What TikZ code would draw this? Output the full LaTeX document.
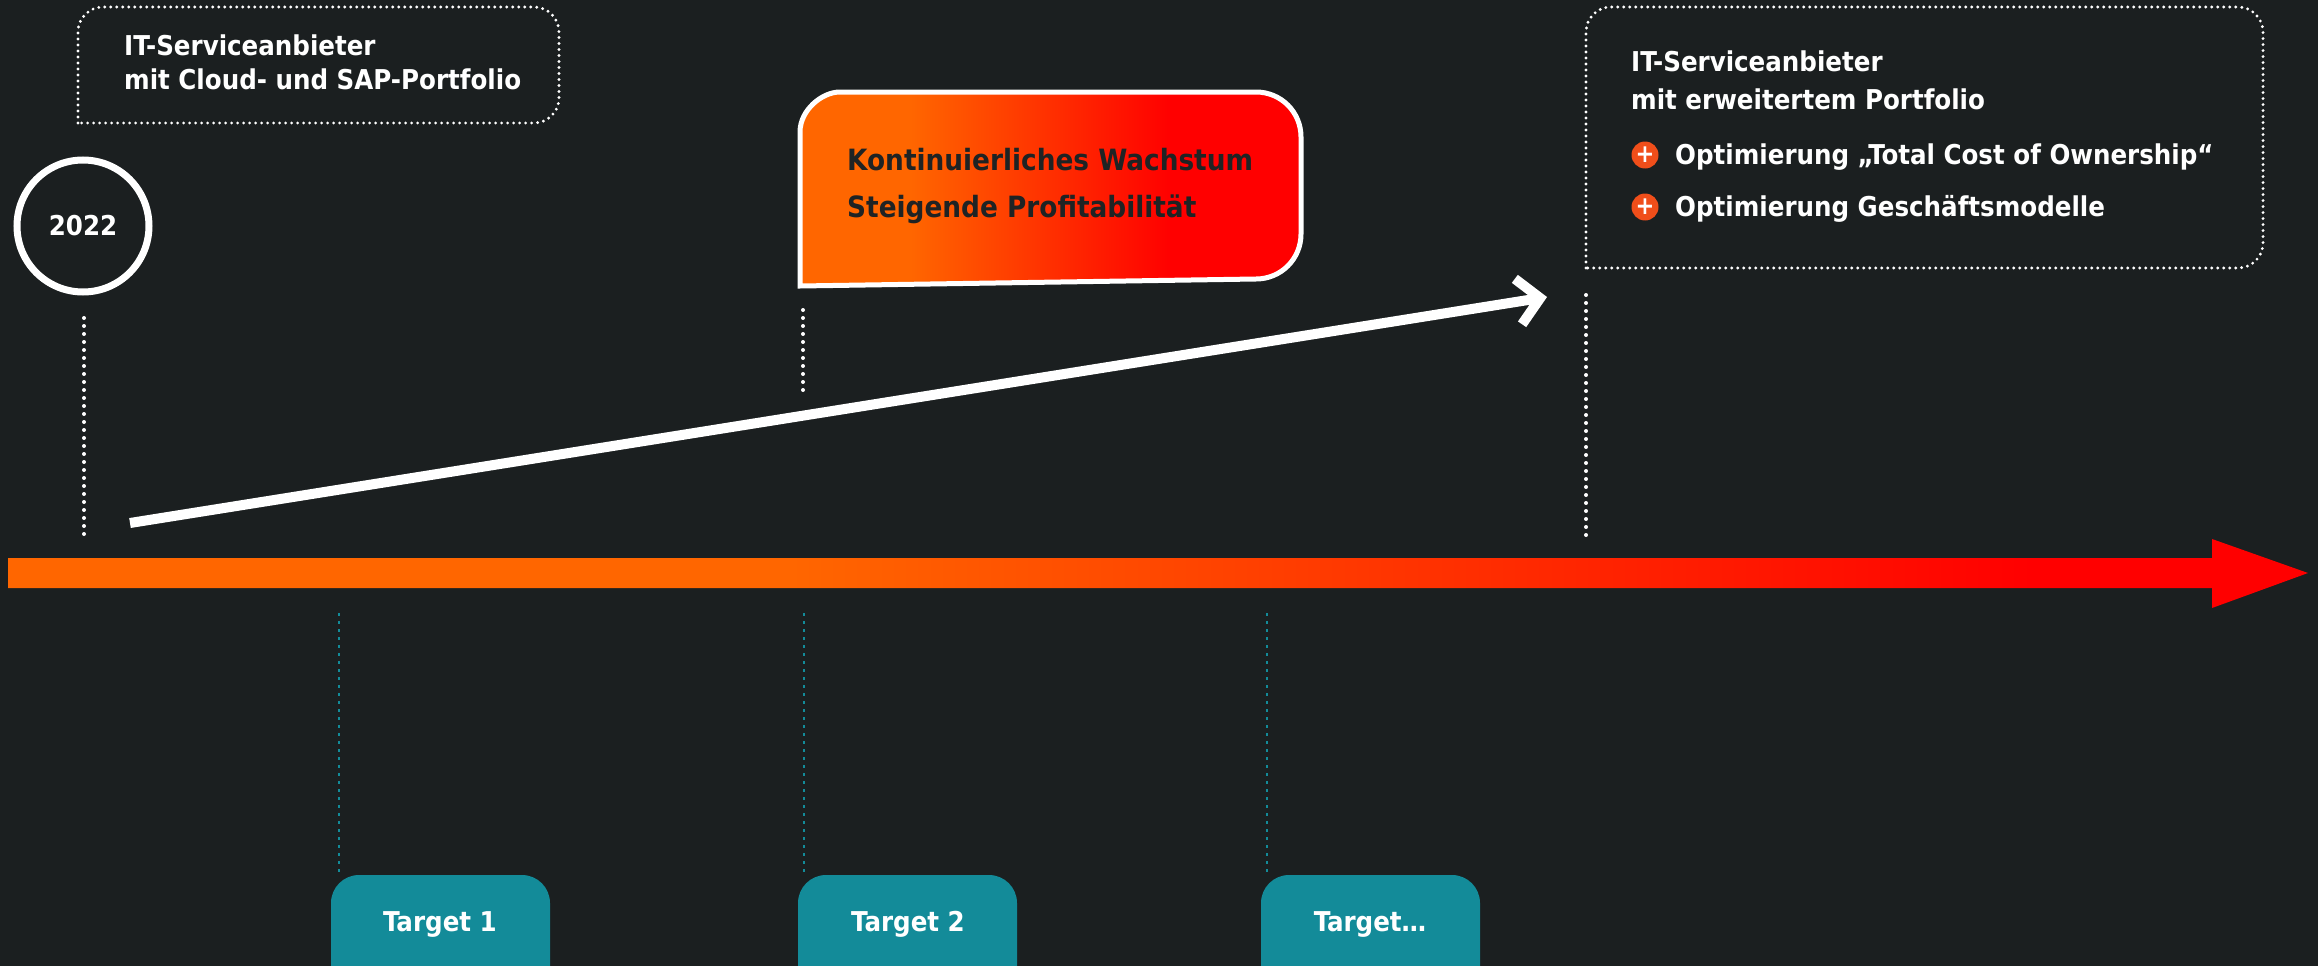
\documentclass[tikz,border=0pt]{standalone}
\usepackage{fontspec}
\setmainfont{DejaVu Sans Condensed}
\usetikzlibrary{arrows.meta}
\definecolor{bg}{HTML}{1B1F20}
\definecolor{orng}{HTML}{FF6600}
\definecolor{rd}{HTML}{FF0000}
\definecolor{tealbox}{HTML}{138B99}
\definecolor{bulletc}{HTML}{F04E1A}
\definecolor{darktext}{HTML}{1F2324}
\pgfdeclarehorizontalshading{mainshade}{100bp}{color(0bp)=(orng); color(42bp)=(orng); color(69bp)=(rd); color(100bp)=(rd)}
\pgfdeclarehorizontalshading{callshade}{100bp}{color(0bp)=(orng); color(36bp)=(orng); color(62bp)=(rd); color(100bp)=(rd)}
\begin{document}
\begin{tikzpicture}[x=1pt,y=-1pt,
  txt/.style={text=white, font=\fontsize{27.3}{32}\selectfont\bfseries, inner sep=0pt, anchor=base west},
  calltxt/.style={txt, text=darktext, font=\fontsize{29.3}{34}\selectfont\bfseries},
  dotbox/.style={draw=white, line width=3.2pt, dash pattern=on 0pt off 6pt, line cap=round, rounded corners=25pt},
  vdots/.style={draw=white, line width=4pt, dash pattern=on 0pt off 8pt, line cap=round},
  tdots/.style={draw=tealbox, line width=2.5pt, dash pattern=on 3pt off 5pt},
  targetbox/.style={fill=tealbox, rounded corners=28pt},
  bulletdot/.style={circle, fill=bulletc, minimum size=27pt, inner sep=0pt, text=white, font=\fontsize{25}{25}\selectfont\bfseries}
]
\useasboundingbox (0,0) rectangle (2318,966);
\fill[bg] (0,0) rectangle (2318,966);
\clip (0,0) rectangle (2318,966);

% left dotted box
\draw[dotbox] (78,123) -- (78,7) -- (559,7) -- (559,123) -- (78,123);
\node[txt] (l1) at (124,56) {IT-Serviceanbieter};
\node[txt] (l2) at (124,89) {mit Cloud- und SAP-Portfolio};

% year circle
\node[draw=white, line width=7pt, circle, minimum size=132pt, inner sep=0pt, text=white, font=\fontsize{27.3}{32}\selectfont\bfseries] (yr) at (83,226) {2022};

% callout
\shadedraw[shading=callshade, draw=white, line width=5pt]
  (800,286) -- (800,132) .. controls (800,110) and (822,92) .. (840,92)
  -- (1256,92) .. controls (1281,92) and (1301,112) .. (1301,137)
  -- (1301,234) .. controls (1301,259) and (1281,279) .. (1256,279) -- cycle;
\node[calltxt] (c1) at (847,170) {Kontinuierliches Wachstum};
\node[calltxt] (c2) at (847,217) {Steigende Profitabilität};

% right dotted box
\draw[dotbox] (1586,268) -- (1586,7) -- (2263,7) -- (2263,268) -- (1586,268);
\node[txt] (r1) at (1631,71) {IT-Serviceanbieter};
\node[txt] (r2) at (1631,109) {mit erweitertem Portfolio};
\node[bulletdot] (b1) at (1645,155) {+};
\node[txt] (bt1) at (1675,164) {Optimierung „Total Cost of Ownership“};
\node[bulletdot] (b2) at (1645,207) {+};
\node[txt] (bt2) at (1675,216) {Optimierung Geschäftsmodelle};

% white dotted verticals
\coordinate (d1a) at (84,318); \coordinate (d1b) at (84,537);
\coordinate (d2a) at (803,310); \coordinate (d2b) at (803,392);
\coordinate (d3a) at (1586,295); \coordinate (d3b) at (1586,536);
\draw[vdots] (d1a) -- (d1b);
\draw[vdots] (d2a) -- (d2b);
\draw[vdots] (d3a) -- (d3b);

% white growth arrow
\coordinate (wa) at (130,523);
\coordinate (wb) at (1547,297);
\draw[white, line width=10pt, -{Straight Barb[length=22pt,width=46pt]}] (wa) -- (wb);

% main timeline arrow
\shade[shading=mainshade] (8,558) -- (2212,558) -- (2212,539) -- (2308,573) -- (2212,608) -- (2212,588) -- (8,588) -- cycle;

% teal dotted verticals
\coordinate (t1a) at (339,613); \coordinate (t1b) at (339,872);
\coordinate (t2a) at (804,613); \coordinate (t2b) at (804,872);
\coordinate (t3a) at (1267,613); \coordinate (t3b) at (1267,872);
\draw[tdots] (t1a) -- (t1b);
\draw[tdots] (t2a) -- (t2b);
\draw[tdots] (t3a) -- (t3b);

% target boxes
\fill[targetbox] (331,1010) -- (331,875) -- (550,875) -- (550,1010);
\fill[targetbox] (798,1010) -- (798,875) -- (1017,875) -- (1017,1010);
\fill[targetbox] (1261,1010) -- (1261,875) -- (1480,875) -- (1480,1010);
\node[txt, anchor=base] (tg1) at (440,931) {Target 1};
\node[txt, anchor=base] (tg2) at (908,931) {Target 2};
\node[txt, anchor=base] (tg3) at (1370,931) {Target…};
\end{tikzpicture}
\end{document}
